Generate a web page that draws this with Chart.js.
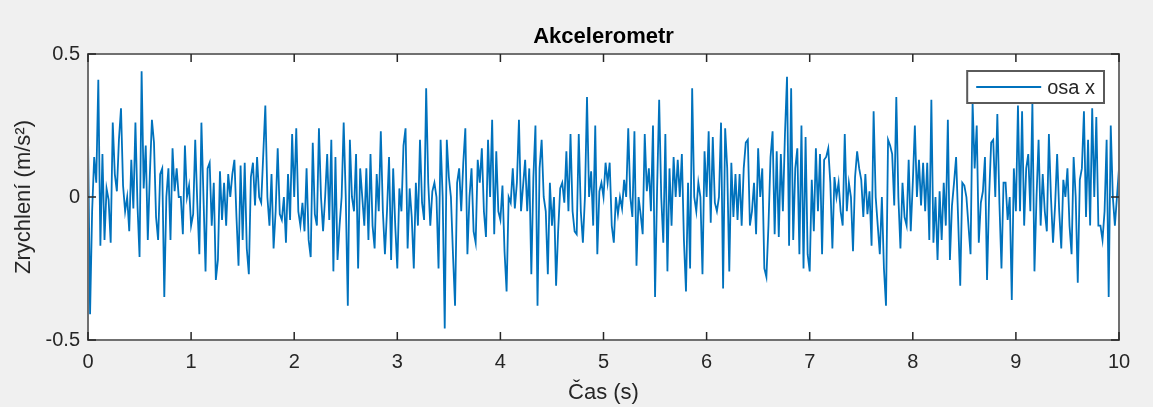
<!DOCTYPE html>
<html><head><meta charset="utf-8">
<script src="https://cdn.jsdelivr.net/npm/chart.js@4/dist/chart.umd.min.js"></script>
<style>html,body{margin:0;padding:0;background:#f0f0f0;}canvas{display:block;}</style>
</head><body>
<canvas id="c" width="1153" height="407"></canvas>
<script>
const SAMPLE_DT = 0.02;
const accelX = [
0.22,-0.41,-0.05,0.14,0.05,0.41,-0.17,0.15,-0.15,0.03,
-0.01,-0.16,0.26,0.08,0.02,0.2,0.31,0.04,-0.05,0.0,
-0.12,0.13,-0.04,0.26,-0.03,-0.21,0.44,0.03,0.18,-0.15,
0.08,0.27,0.19,-0.07,-0.15,0.08,0.1,-0.35,0.0,0.1,
-0.15,0.17,0.02,0.1,0.0,
0.0,-0.13,0.18,0.0,0.04,
-0.1,-0.06,0.2,-0.02,-0.2,0.26,0.0,-0.26,0.1,0.12,
-0.1,0.05,-0.29,-0.22,0.09,-0.08,0.05,-0.1,0.08,0.0,
0.08,0.13,-0.07,-0.24,0.11,-0.15,0.12,-0.18,-0.27,0.07,
0.12,-0.03,0.14,0.0,-0.02,0.15,0.32,0.0,-0.1,0.08,
-0.18,-0.05,0.17,-0.06,-0.08,0.0,-0.16,0.08,-0.08,0.22,
0.0,0.24,-0.05,-0.1,-0.02,-0.12,0.1,-0.15,-0.21,0.19,
-0.06,-0.1,0.24,0.0,-0.12,0.0,0.15,-0.08,0.2,-0.26,
0.14,-0.22,-0.1,0.0,0.26,0.0,-0.38,0.2,0.0,-0.05,
0.15,-0.25,0.1,0.0,-0.1,0.1,-0.15,0.15,-0.1,-0.18,
0.08,-0.05,0.23,-0.05,-0.2,-0.05,0.14,-0.22,0.1,-0.1,
-0.25,0.03,-0.05,0.18,0.24,-0.18,0.03,-0.07,-0.25,0.05,
-0.1,0.2,-0.02,-0.08,0.38,0.05,-0.1,0.02,0.05,0.0,
-0.25,0.2,0.0,-0.46,0.2,0.07,0.0,-0.2,-0.38,0.05,
0.1,-0.05,0.12,0.24,-0.2,0.0,0.1,-0.12,-0.16,0.13,
0.05,0.17,-0.05,-0.14,0.2,0.0,0.27,-0.13,0.16,-0.05,
-0.08,0.04,-0.19,-0.33,0.0,-0.02,0.1,-0.04,0.05,0.27,
-0.05,0.04,0.13,-0.05,0.1,-0.27,0.07,0.25,-0.38,0.1,
0.2,0.0,-0.05,-0.27,0.05,-0.1,0.0,-0.31,-0.12,0.03,
0.05,-0.02,0.16,-0.05,0.22,-0.05,-0.12,-0.13,0.22,-0.05,
-0.16,0.0,0.35,0.0,0.09,-0.1,0.25,-0.2,0.02,0.05,
0.0,0.12,0.05,0.12,-0.1,-0.16,0.0,-0.06,0.0,-0.04,
0.06,0.0,0.24,0.0,-0.07,0.23,-0.24,0.0,-0.06,-0.13,
0.22,0.02,0.1,-0.05,0.25,-0.35,0.03,0.34,0.0,-0.16,
0.22,-0.26,0.1,-0.1,0.14,0.0,0.13,0.0,0.15,-0.15,
-0.33,0.05,-0.25,0.38,0.0,-0.05,0.05,0.0,-0.27,0.16,
0.0,0.23,-0.09,0.21,-0.02,-0.05,0.0,0.26,-0.32,0.24,
0.1,-0.26,0.12,-0.07,0.08,-0.08,0.08,-0.1,0.1,0.19,
0.2,-0.1,-0.05,0.05,-0.13,0.17,0.0,0.1,-0.25,-0.28,
-0.1,0.14,0.23,-0.13,0.16,-0.14,0.15,-0.05,0.22,0.42,
-0.17,0.38,-0.15,0.1,0.17,-0.2,0.25,-0.25,0.21,-0.2,
-0.26,0.06,-0.12,0.17,-0.05,0.15,-0.2,0.13,0.14,0.17,
0.05,-0.18,0.07,0.0,0.05,-0.05,-0.1,0.22,-0.05,0.05,
0.0,-0.19,0.07,0.16,0.1,0.06,-0.07,0.08,-0.06,0.02,
-0.17,0.3,0.0,-0.1,-0.2,0.0,-0.25,-0.38,0.2,0.18,
0.15,-0.03,0.35,0.0,-0.18,0.05,-0.07,-0.1,0.13,-0.12,
0.05,0.25,0.0,0.13,-0.03,0.12,-0.05,0.12,-0.15,0.34,
-0.16,0.0,-0.22,0.02,-0.15,0.05,-0.1,0.27,-0.22,-0.03,
0.05,0.14,-0.08,-0.31,0.05,0.04,0.0,-0.1,-0.2,0.33,
0.1,0.25,-0.16,-0.02,0.02,0.14,-0.29,0.0,0.19,0.2,
0.0,0.29,-0.02,-0.25,0.05,0.05,-0.08,0.0,-0.36,0.1,
-0.05,0.32,-0.05,0.3,-0.1,0.1,0.15,-0.05,0.33,-0.26,
0.0,0.2,-0.1,0.08,-0.05,-0.12,0.22,0.0,-0.16,-0.03,
0.15,-0.05,-0.18,0.06,0.0,0.1,-0.1,-0.2,0.14,0.0,
-0.3,0.06,0.1,0.3,-0.07,0.2,-0.1,0.31,0.0,0.28,
-0.1,-0.1,-0.15,-0.05,0.2,-0.35,0.25,0.0,-0.1,0.0,
0.1
];
const xTicks = [0,1,2,3,4,5,6,7,8,9,10];
const yTicks = [-0.5,0,0.5];
const seriesName = 'osa x';
const chartTitle = 'Akcelerometr';
const xTitle = 'Čas (s)';
const yTitle = 'Zrychlení (m/s²)';

const time = accelX.map((_, i) => Math.round(i * SAMPLE_DT * 100) / 100);
const points = accelX.map((v, i) => ({x: time[i], y: v}));

const FONT = '"Liberation Sans", Arial, Helvetica, sans-serif';
const LINE_COLOR = '#0072BD';
const AXIS_COLOR = '#262626';

const bgPlugin = {
  id: 'bg',
  beforeDraw(chart) {
    const {ctx, chartArea: a} = chart;
    ctx.save();
    ctx.fillStyle = '#f0f0f0';
    ctx.fillRect(0, 0, chart.width, chart.height);
    ctx.fillStyle = '#ffffff';
    ctx.fillRect(a.left, a.top, a.right - a.left, a.bottom - a.top);
    ctx.restore();
  }
};

const framePlugin = {
  id: 'frame',
  afterDatasetsDraw(chart) {
    const {ctx, chartArea: a, scales} = chart;
    ctx.save();
    ctx.strokeStyle = '#707070';
    ctx.lineWidth = 2;
    ctx.strokeRect(a.left, a.top, a.right - a.left, a.bottom - a.top);
    ctx.strokeStyle = AXIS_COLOR;
    ctx.lineWidth = 1.5;
    const TL = 8;
    ctx.beginPath();
    scales.x.ticks.forEach(t => {
      const px = scales.x.getPixelForValue(t.value);
      ctx.moveTo(px, a.bottom); ctx.lineTo(px, a.bottom - TL);
      ctx.moveTo(px, a.top); ctx.lineTo(px, a.top + TL);
    });
    scales.y.ticks.forEach(t => {
      const py = scales.y.getPixelForValue(t.value);
      ctx.moveTo(a.left, py); ctx.lineTo(a.left + TL, py);
      ctx.moveTo(a.right, py); ctx.lineTo(a.right - TL, py);
    });
    ctx.stroke();
    ctx.restore();
  },
  afterDraw(chart) {
    const {ctx, chartArea: a} = chart;
    const label = chart.data.datasets[0].label;
    ctx.save();
    ctx.font = '20px ' + FONT;
    const tw = ctx.measureText(label).width;
    const boxW = 9 + 65 + 6 + tw + 9;
    const boxH = 32;
    const bx = a.right - 15 - boxW;
    const by = a.top + 17;
    ctx.fillStyle = '#ffffff';
    ctx.fillRect(bx, by, boxW, boxH);
    ctx.strokeStyle = '#5a5a5a';
    ctx.lineWidth = 2;
    ctx.strokeRect(bx, by, boxW, boxH);
    ctx.strokeStyle = LINE_COLOR;
    ctx.lineWidth = 1.8;
    ctx.beginPath();
    ctx.moveTo(bx + 9, by + boxH / 2);
    ctx.lineTo(bx + 74, by + boxH / 2);
    ctx.stroke();
    ctx.fillStyle = AXIS_COLOR;
    ctx.textBaseline = 'middle';
    ctx.textAlign = 'left';
    ctx.fillText(label, bx + 80, by + boxH / 2 + 1);
    ctx.restore();
  }
};

new Chart(document.getElementById('c'), {
  type: 'line',
  data: {
    datasets: [{
      label: seriesName,
      data: points,
      borderColor: LINE_COLOR,
      borderWidth: 1.8,
      pointRadius: 0,
      tension: 0,
      fill: false
    }]
  },
  options: {
    responsive: false,
    animation: false,
    devicePixelRatio: 1,
    layout: {padding: {left: 0, right: 34, top: 0, bottom: 0}},
    plugins: {
      legend: {display: false},
      tooltip: {enabled: false},
      title: {
        display: true,
        text: chartTitle,
        fullSize: false,
        color: '#000000',
        font: {family: FONT, size: 22, weight: 'bold'},
        padding: {top: 24, bottom: 3.6}
      }
    },
    scales: {
      x: {
        type: 'linear',
        min: 0, max: 10,
        afterBuildTicks: s => { s.ticks = xTicks.map(v => ({value: v})); },
        afterFit: s => { s.height = 67; },
        grid: {display: false, drawTicks: false},
        border: {display: false},
        ticks: {color: AXIS_COLOR, font: {family: FONT, size: 20}, padding: 10, maxRotation: 0, autoSkip: false},
        title: {display: true, text: xTitle, color: AXIS_COLOR, font: {family: FONT, size: 22}, padding: {top: 0, bottom: 1}}
      },
      y: {
        type: 'linear',
        min: -0.5, max: 0.5,
        afterBuildTicks: s => { s.ticks = yTicks.map(v => ({value: v})); },
        afterFit: s => { s.width = 88; },
        grid: {display: false, drawTicks: false},
        border: {display: false},
        ticks: {color: AXIS_COLOR, font: {family: FONT, size: 20}, padding: 8},
        title: {display: true, text: yTitle, color: AXIS_COLOR, font: {family: FONT, size: 22}, padding: {top: 11, bottom: 0}}
      }
    }
  },
  plugins: [bgPlugin, framePlugin]
});
</script>
</body></html>
